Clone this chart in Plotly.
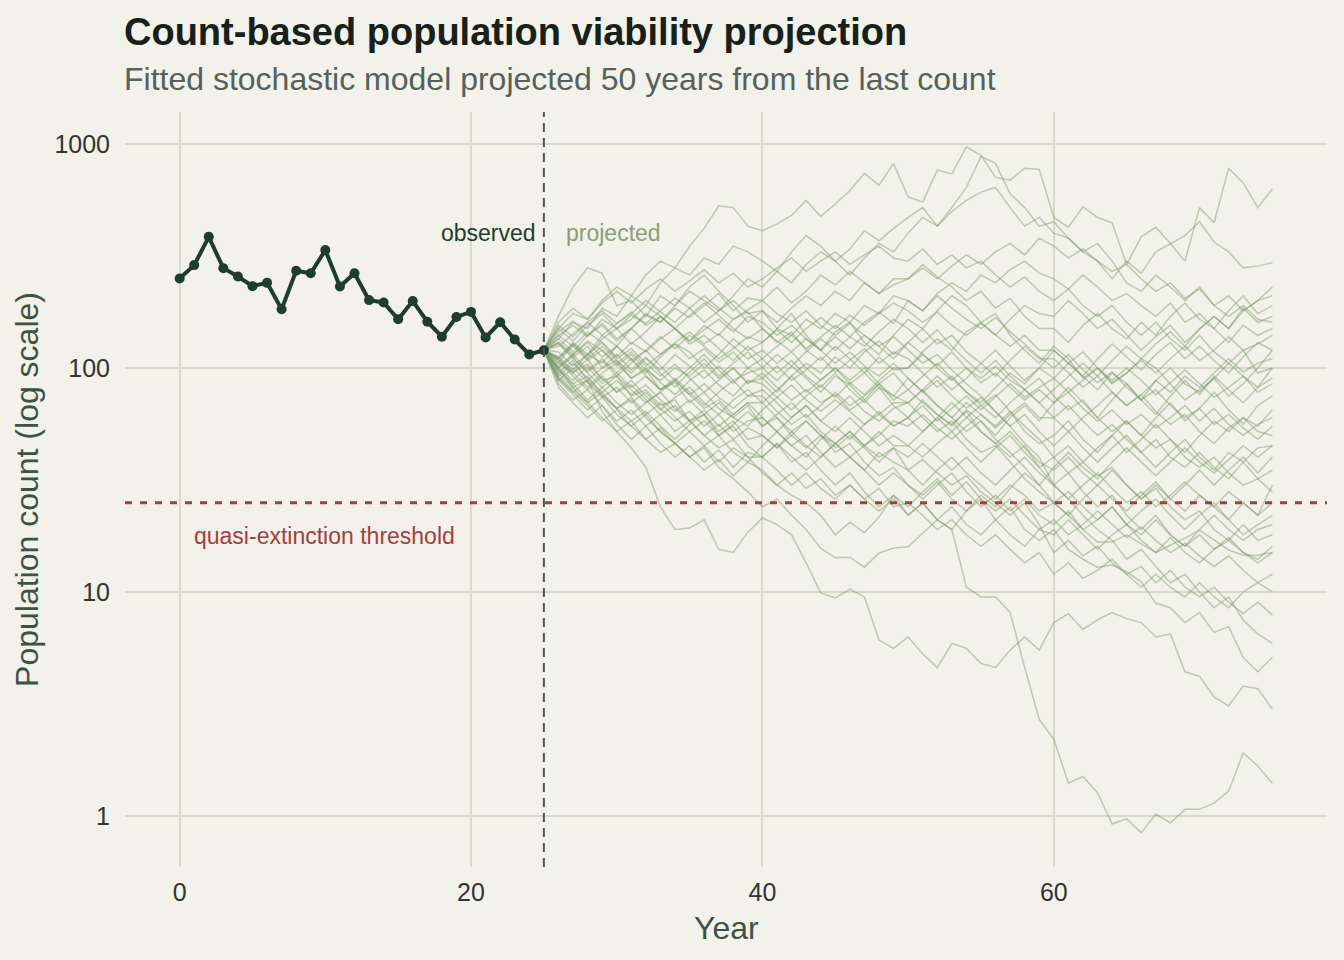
import math
import plotly.graph_objects as go

# ---------------- data ----------------
obs_years = list(range(0, 26))
obs_counts = [251, 288, 385, 279, 256, 232, 240, 183, 272, 265, 336, 231, 265,
              201, 196, 165, 199, 161, 138, 169, 178, 137, 160, 134, 115, 120]

proj_years = list(range(25, 76))
threshold = 25

# projected trajectories, values for years 26..75 (year 25 = last observed count)
sim_01 = [150,175,165,200,230,210,260,300,280,350, 420,530,520,430,410,440,480,560,475,540,
          620,740,655,820,580,550,765,735,970,890, 710,690,780,770,470,425,525,470,445,290,
          385,425,360,300,520,445,780,670,520,630]
sim_02 = [135,160,150,185,170,210,190,240,280,260, 310,290,350,330,300,270,330,390,350,300,
          340,410,370,420,470,520,430,500,560,610, 640,520,430,470,400,380,330,300,250,300,
          265,330,360,390,450,365,330,280,285,295]
sim_03 = [110,130,115,140,125,150,175,160,190,220, 200,180,210,250,230,270,240,290,330,300,
          260,310,360,330,400,470,430,520,640,880, 820,600,520,430,450,380,330,360,300,240,
          220,260,230,200,230,190,210,180,200,230]
sim_04 = [170,230,280,265,190,200,170,210,190,230, 260,220,190,160,180,150,175,140,120,145,
          160,130,115,140,165,150,180,210,190,160, 175,140,120,105,125,110,90,100,85,95,
          110,100,85,72,80,90,75,85,100,120]
sim_05 = [105,95,110,88,92,75,80,68,72,58, 62,50,55,45,40,46,38,42,35,30,
          34,28,24,27,22,25,21,19,10.5,9.5, 9.5,8.1,4.6,2.7,2.2,1.4,1.5,1.27,0.92,0.97,
          0.84,1.02,0.93,1.07,1.07,1.14,1.29,1.91,1.67,1.4]
sim_06 = [130,112,125,100,108,90,98,80,86,70, 78,66,60,68,55,60,50,44,50,42,
          46,38,33,36,30,27,31,26,23,26, 21,24,19,17,19,15.5,14,12.9,13.2,12.3,
          11.1,8.9,8.5,7.3,8.1,6.6,7,5.1,4.4,5.1]
sim_07 = [100,82,88,64,52,44,36,24,19,19.3, 21,15.5,15,18.5,21.4,20,18,13.5,9.9,9.4,
          10.3,9.5,6.1,5.6,6.3,5.3,4.6,5.9,5.6,4.8, 4.6,5.5,6.3,5.5,7.3,8.0,6.8,7.5,8.1,7.6,
          7.3,6.3,6.5,4.4,4.2,3.4,3.1,3.8,3.7,3.0]
sim_08 = [135,118,140,155,132,150,172,160,185,168, 190,215,180,205,200,230,195,220,260,235,
          270,240,215,250,250,290,255,230,200,220, 185,205,170,150,150,130,155,175,150,135,
          160,140,170,195,165,150,180,210,175,190]
sim_09 = [105,128,112,135,150,128,145,170,150,132, 155,140,165,178,150,130,145,120,108,125,
          110,95,112,98,100,118,135,120,145,160, 140,165,190,175,170,200,175,150,165,140,
          120,138,155,130,148,170,150,185,160,170]
sim_10 = [112,98,115,105,125,110,95,112,128,118, 100,115,135,120,130,150,140,165,150,175,
          160,190,175,210,200,180,215,240,220,260, 240,275,300,265,250,225,260,230,200,215,
          190,170,195,160,175,150,130,155,140,150]
sim_11 = [95,108,88,100,115,98,112,95,82,96, 110,92,105,118,100,88,102,90,78,92,
          84,72,85,95,80,92,105,90,78,70, 82,95,85,100,120,105,92,110,128,112,
          98,115,130,110,125,108,95,112,130,120]
sim_12 = [128,110,96,108,92,105,120,102,88,100, 115,98,85,100,90,78,92,105,95,112,
          100,118,132,115,130,150,128,140,118,105, 120,102,88,100,90,105,92,80,95,85,
          72,88,100,85,78,90,105,92,82,100]
sim_13 = [140,125,145,130,112,130,118,135,150,128, 140,122,108,125,110,95,108,92,82,95,
          80,70,82,68,60,72,62,55,65,58, 50,60,68,58,70,82,70,60,72,85,
          72,62,75,88,76,92,80,70,82,90]
sim_14 = [108,92,80,92,78,88,75,65,74,82, 70,62,72,80,70,80,92,78,88,100,
          85,95,82,75,90,78,68,60,70,62, 55,64,52,46,50,58,48,42,50,58,
          50,60,70,58,66,78,65,56,68,75]
sim_15 = [100,88,102,85,95,110,92,80,90,78, 68,78,88,75,80,70,60,68,58,52,
          60,52,45,50,45,40,46,52,44,38, 44,50,42,36,40,34,38,44,50,42,
          48,56,48,42,50,58,52,60,55,65]
sim_16 = [98,85,72,82,70,62,70,78,66,58, 65,55,62,70,60,52,60,68,58,66,
          75,64,58,66,70,80,92,80,90,105, 92,108,125,110,110,95,82,92,78,68,
          76,64,56,62,52,46,54,60,52,50]
sim_17 = [150,132,155,175,150,165,190,170,150,172, 195,172,150,135,150,132,118,135,120,105,
          118,102,92,105,90,78,88,75,66,74, 64,55,62,52,45,52,44,38,44,50,
          42,36,42,48,40,35,42,38,44,45]
sim_18 = [92,80,70,78,66,58,64,55,48,56, 62,52,58,48,50,44,52,45,40,46,
          40,35,42,38,35,30,35,40,34,30, 26,30,27,23,25,22,26,30,26,23,
          27,31,26,30,35,30,35,40,34,40]
sim_19 = [112,128,110,125,108,95,110,98,115,102, 90,102,88,95,100,115,102,118,135,120,
          138,125,145,165,150,130,148,125,108,95, 108,92,80,70,60,68,58,50,56,48,
          42,48,40,36,42,36,32,38,32,35]
sim_20 = [100,112,95,82,92,80,70,78,88,76, 66,72,62,70,70,60,52,58,50,44,
          50,44,38,44,40,46,40,35,40,34, 30,35,40,34,30,26,30,34,29,25,
          28,24,27,31,27,24,28,25,22,30]
sim_21 = [90,78,68,58,65,55,62,52,46,52, 45,50,42,38,45,52,45,40,48,55,
          48,56,64,55,60,52,60,70,60,52, 46,52,44,38,35,40,34,30,35,30,
          26,30,26,23,27,24,21,25,22,25]
sim_22 = [145,162,140,158,135,150,130,115,130,145, 128,142,125,110,120,105,118,100,88,100,
          88,100,85,75,70,80,68,60,52,58, 48,42,36,30,25,28,24,21,24,20,
          23,26,22,19,22,25,21,18,20,22]
sim_23 = [88,100,86,74,82,70,78,66,58,64, 55,62,52,58,60,52,45,50,42,36,
          40,35,30,34,30,26,30,34,28,24, 27,23,26,22,20,23,19,21,24,20,
          18,21,18,16,19,22,19,17,19,20]
sim_24 = [118,102,115,130,110,122,105,92,104,90, 78,88,100,86,90,102,88,98,112,96,
          108,122,105,118,110,95,82,92,78,68, 76,64,55,48,40,45,38,33,36,30,
          26,29,24,21,23,19,17,20,17,18]
sim_25 = [82,70,60,68,56,48,55,46,40,45, 38,43,36,42,40,35,30,34,29,26,
          30,26,23,26,22,25,21,24,20,18, 21,18,16,19,18,21,18,15.5,18,20,
          17,15,17.5,15,13.5,15.5,17,15,14,16]
sim_26 = [155,138,160,180,158,175,200,178,160,185, 210,185,165,182,200,175,160,180,155,140,
          158,140,125,138,120,105,115,98,85,75, 64,55,46,40,30,34,28,24,27,22,
          19,22,18,16,18,15.5,17.5,15,13.5,15]
sim_27 = [95,82,70,60,52,58,48,42,46,40, 35,39,33,38,35,30,34,29,32,27,
          30,26,29,24,25,22,19,21,18,16, 18,15.5,13.5,15,12,13.5,11.5,12.5,14,12,
          10.5,12,10.5,9.5,11,9.5,8.5,10,11,10]
sim_28 = [102,115,98,110,95,82,92,80,88,76, 85,74,66,75,75,64,56,62,52,46,
          52,45,40,44,35,39,34,30,33,28, 25,22,25,20,15,17,14.5,16,13.5,12,
          13,11,12.5,10.5,9.5,10.5,9,8,9,7.9]
sim_29 = [90,78,88,75,66,74,62,70,60,52, 58,50,56,64,55,62,70,60,68,78,
          68,75,85,72,80,70,62,56,64,52, 46,40,45,36,30,26,22,19,17,14,
          15.5,13,11,12,10,8.5,9.5,7.5,6.5,5.9]
sim_30 = [160,185,165,195,220,195,225,250,220,245, 275,240,265,230,250,280,310,270,300,330,
          290,320,350,310,300,340,290,320,280,300, 260,230,255,220,200,225,190,170,190,160,
          140,160,135,120,140,118,105,120,95,100]
sim_31 = [140,155,138,165,150,172,158,180,205,185, 160,180,200,175,180,160,185,210,190,220,
          200,240,215,235,250,280,250,285,320,290, 330,360,320,380,350,310,340,300,270,290,
          250,220,240,205,225,190,170,190,165,160]
sim_32 = [100,115,130,112,125,108,120,138,122,140, 125,110,122,138,130,148,130,150,168,150,
          172,155,175,195,180,160,178,155,140,158, 140,125,140,120,120,105,118,100,88,100,
          88,76,86,98,85,74,82,92,78,85]
sim_33 = [108,95,82,95,105,90,100,86,76,88, 98,84,75,88,85,74,84,72,64,72,
          64,56,62,55,60,68,58,66,75,65, 74,85,74,82,90,78,88,100,86,95,
          108,95,110,125,108,120,138,120,128,140]
sim_34 = [92,105,90,78,88,76,84,72,64,72, 62,70,60,55,65,74,65,75,84,74,
          86,76,88,100,100,115,100,88,100,86, 95,82,72,80,70,78,66,58,65,56,
          62,54,60,68,58,66,56,50,56,60]
sim_35 = [130,115,132,120,105,118,102,115,128,110, 122,106,118,100,110,125,140,122,138,155,
          138,160,178,158,200,180,210,185,165,150, 168,145,128,112,100,115,98,86,96,82,
          72,80,68,60,66,56,62,54,48,55]
sim_36 = [125,142,160,140,158,178,155,170,150,132, 148,165,145,170,160,140,155,135,120,138,
          122,140,125,110,130,115,102,118,100,90, 102,88,80,90,75,65,72,60,52,58,
          50,44,48,40,36,40,34,30,32,28]
sim_37 = [85,72,80,68,58,65,55,62,52,58, 50,56,48,54,50,44,50,58,50,46,
          52,45,50,58,55,62,54,48,55,62, 54,62,70,60,60,52,60,68,78,68,
          76,88,78,92,82,95,110,96,105,110]
sim_38 = [110,125,108,120,102,115,98,88,100,92, 105,90,100,85,95,82,72,80,70,76,
          65,72,62,70,70,60,52,58,48,42, 45,38,32,28,25,22,19,16.7,16.7,18,
          16.5,15,16.2,17.4,18.9,17,15.4,14.6,14.6,15]
sim_39 = [88,76,65,74,62,55,48,54,46,40, 45,38,44,40,40,46,40,35,40,46,
          40,45,52,45,45,52,60,52,60,68, 60,70,80,70,80,92,105,92,108,125,
          110,128,145,125,150,170,150,180,200,210]
sim_40 = [98,85,92,76,66,72,60,52,46,40, 44,36,32,28,24,26,22,19,15.7,14.2,
          14.3,12.9,14.9,15.7,15.9,18.3,21,19,23,27, 24,29,34,30,36,42,36,32,38,44,
          38,33,38,44,38,34,39,45,40,45]
sim_41 = [110,96,104,90,78,84,72,62,68,58, 50,44,48,40,34,30,27,25,22,18,
          20.5,18.4,21.6,27,24,28,32,27,31,26, 23,26,22,19,21,18,20,23,20,17.5,
          19.5,17,15,16.5,14.5,13,14.5,12.5,11,12]

projections = [sim_01, sim_02, sim_03, sim_04, sim_05, sim_06, sim_07, sim_08, sim_09, sim_10,
               sim_11, sim_12, sim_13, sim_14, sim_15, sim_16, sim_17, sim_18, sim_19, sim_20,
               sim_21, sim_22, sim_23, sim_24, sim_25, sim_26, sim_27, sim_28, sim_29, sim_30,
               sim_31, sim_32, sim_33, sim_34, sim_35, sim_36, sim_37, sim_38, sim_39, sim_40,
               sim_41]

x_ticks = [0, 20, 40, 60]
y_ticks = [1, 10, 100, 1000]
y_tick_text = ["1", "10", "100", "1000"]

# ---------------- styling ----------------
BG = "#F2F1EA"
GRID = "#D8D9CA"
OBS = "#1E3D2B"
SIM = "rgba(122,152,104,0.45)"
RED = "#A63D40"
FONT = "Liberation Sans, Arial, Helvetica, sans-serif"

fig = go.Figure()
for sim in projections:
    fig.add_trace(go.Scatter(x=proj_years, y=[obs_counts[-1]] + sim, mode="lines",
                             line=dict(color=SIM, width=1.5), hoverinfo="skip",
                             showlegend=False))

fig.add_trace(go.Scatter(x=obs_years, y=obs_counts, mode="lines+markers",
                         line=dict(color=OBS, width=4),
                         marker=dict(size=10, color=OBS), showlegend=False))

last_year = obs_years[-1]

fig.add_shape(type="line", xref="paper", x0=0, x1=1, yref="y",
              y0=threshold, y1=threshold,
              line=dict(color=RED, width=3, dash="7px,8px"), layer="above")
fig.add_shape(type="line", xref="x", x0=last_year, x1=last_year, yref="paper",
              y0=0, y1=1, line=dict(color="#4B5950", width=2, dash="9px,6px"),
              layer="above")

ann = []
ann.append(dict(text="<b>Count-based population viability projection</b>",
                xref="paper", yref="paper", x=0, y=1.106, xanchor="left", xshift=-3,
                yanchor="middle", showarrow=False,
                font=dict(size=38, color="#172019", family=FONT)))
ann.append(dict(text="Fitted stochastic model projected 50 years from the last count",
                xref="paper", yref="paper", x=0, y=1.0437, xanchor="left", xshift=-3,
                yanchor="middle", showarrow=False,
                font=dict(size=32, color="#56615A", family=FONT)))
ann.append(dict(text="Year", xref="paper", yref="paper", x=0.5, y=-0.081,
                xanchor="center", yanchor="middle", showarrow=False,
                font=dict(size=32, color="#3E5244", family=FONT)))
ann.append(dict(text="Population count (log scale)", xref="paper", yref="paper",
                x=-0.082, y=0.5, xanchor="center", yanchor="middle", textangle=-90,
                showarrow=False, font=dict(size=32, color="#3E5244", family=FONT)))
ann.append(dict(text="observed", xref="x", yref="y", x=last_year, y=math.log10(400),
                xanchor="right", yanchor="middle", xshift=-6, showarrow=False,
                font=dict(size=23, color=OBS, family=FONT)))
ann.append(dict(text="projected", xref="x", yref="y", x=last_year, y=math.log10(400),
                xanchor="left", yanchor="middle", xshift=20, showarrow=False,
                font=dict(size=23, color="#8A9F78", family=FONT)))
ann.append(dict(text="quasi-extinction threshold", xref="x", yref="y", x=1,
                y=math.log10(17.8), xanchor="left", yanchor="middle", xshift=-2,
                showarrow=False, font=dict(size=23, color=RED, family=FONT)))

fig.update_layout(
    width=1344, height=960,
    margin=dict(l=125, r=17, t=112, b=93),
    paper_bgcolor=BG, plot_bgcolor=BG,
    font=dict(family=FONT),
    annotations=ann,
    showlegend=False,
    xaxis=dict(range=[-3.75, 78.75], tickmode="array", tickvals=x_ticks,
               showgrid=True, gridcolor=GRID, gridwidth=1.5, zeroline=False,
               showline=False, ticks="", ticklabelstandoff=8,
               tickfont=dict(size=25, color="#333333"), automargin=False),
    yaxis=dict(type="log", range=[-0.228, 3.143], tickmode="array", tickvals=y_ticks,
               ticktext=y_tick_text, showgrid=True, gridcolor=GRID, gridwidth=1.5,
               zeroline=False, showline=False, ticks="", ticklabelstandoff=14,
               tickfont=dict(size=25, color="#333333"), automargin=False),
)

fig.write_html("out.html")
